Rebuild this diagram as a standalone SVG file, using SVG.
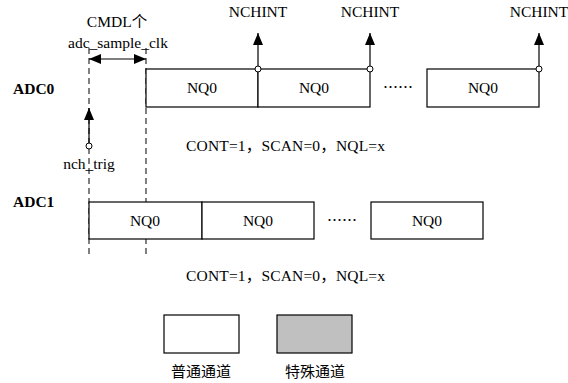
<svg xmlns="http://www.w3.org/2000/svg" width="568" height="383" viewBox="0 0 568 383">
<defs>
<style>
.t{font-family:'Liberation Serif','Times New Roman',Times,'Noto Sans CJK SC',serif;font-size:15.5px;fill:#000}
.b{font-weight:bold}
.c{text-anchor:middle}
.box{fill:#fff;stroke:#000;stroke-width:1.2}
.spec{fill:#c0c0c0;stroke:#000;stroke-width:1.2}
.ln{stroke:#000;stroke-width:1.2;fill:none}
.dash{stroke:#000;stroke-width:1;stroke-dasharray:6,4;fill:none}
.dot{fill:#fff;stroke:#000;stroke-width:1}
.cjk{font-family:'Noto Sans CJK SC',sans-serif;font-size:15px;fill:#000}
</style>
<marker id="ah" viewBox="0 0 12 10" refX="12" refY="5" markerWidth="12" markerHeight="10" markerUnits="userSpaceOnUse" orient="auto-start-reverse">
<path d="M0,0 L12,5 L0,10 z" fill="#000"/>
</marker>
</defs>
<g id="labels">
<text class="t c" x="117" y="27">CMDL个</text>
<text class="t c" x="118" y="48">adc_sample_clk</text>
<text class="t b" x="13" y="94">ADC0</text>
<text class="t b" x="13" y="207">ADC1</text>
<text class="t c" x="89" y="169">nch_trig</text>
<text class="t" x="186" y="151" textLength="199" lengthAdjust="spacing">CONT=1，SCAN=0，NQL=x</text>
<text class="t" x="186" y="281" textLength="199" lengthAdjust="spacing">CONT=1，SCAN=0，NQL=x</text>
</g>
<g id="guides">
<line class="dash" x1="89" y1="48" x2="89" y2="258"/>
<line class="dash" x1="146" y1="48" x2="146" y2="258"/>
</g>
<g id="adc0">
<g id="adc0-nq0-1"><rect class="box" x="146" y="69" width="112" height="38"/><text class="t c" x="202" y="93">NQ0</text></g>
<g id="adc0-nq0-2"><rect class="box" x="258" y="69" width="112" height="38"/><text class="t c" x="314" y="93">NQ0</text></g>
<g id="adc0-dots"><text class="cjk c" x="398" y="93">……</text></g>
<g id="adc0-nq0-3"><rect class="box" x="427" y="69" width="112" height="38"/><text class="t c" x="483" y="93">NQ0</text></g>
</g>
<g id="adc1">
<g id="adc1-nq0-1"><rect class="box" x="89" y="202" width="113" height="37"/><text class="t c" x="145" y="226">NQ0</text></g>
<g id="adc1-nq0-2"><rect class="box" x="202" y="202" width="112" height="37"/><text class="t c" x="258" y="226">NQ0</text></g>
<g id="adc1-dots"><text class="cjk c" x="342" y="226">……</text></g>
<g id="adc1-nq0-3"><rect class="box" x="371" y="202" width="112" height="37"/><text class="t c" x="427" y="226">NQ0</text></g>
</g>
<g id="nchint1"><text class="t c" x="258" y="17">NCHINT</text></g>
<g id="nchint2"><text class="t c" x="370" y="17">NCHINT</text></g>
<g id="nchint3"><text class="t c" x="539" y="17">NCHINT</text></g>
<g id="connectors">
<line class="ln" x1="258" y1="66" x2="258" y2="33" marker-end="url(#ah)"/>
<line class="ln" x1="370" y1="66" x2="370" y2="33" marker-end="url(#ah)"/>
<line class="ln" x1="539" y1="66" x2="539" y2="33" marker-end="url(#ah)"/>
<circle class="dot" cx="258" cy="69" r="3"/>
<circle class="dot" cx="370" cy="69" r="3"/>
<circle class="dot" cx="539" cy="69" r="3"/>
<line class="ln" x1="89" y1="143" x2="89" y2="108" marker-end="url(#ah)"/>
<circle class="dot" cx="89" cy="146" r="3"/>
<line class="ln" x1="89" y1="59" x2="146" y2="59" marker-start="url(#ah)" marker-end="url(#ah)"/>
</g>
<g id="legend">
<g id="legend-normal"><rect class="box" x="164" y="315" width="75" height="38"/><text class="cjk c" x="201" y="377">普通通道</text></g>
<g id="legend-special"><rect class="spec" x="277" y="315" width="75" height="38"/><text class="cjk c" x="315" y="377">特殊通道</text></g>
</g>
</svg>
